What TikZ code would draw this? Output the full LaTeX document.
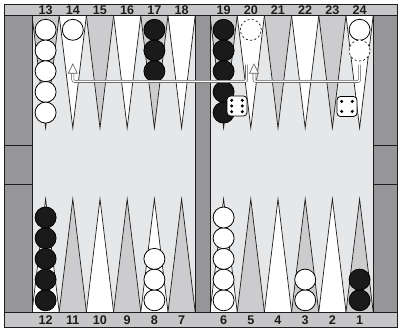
\documentclass[tikz,border=0pt]{standalone}
\usepackage{fontspec}
\setmainfont{Liberation Sans}
\usetikzlibrary{calc}
\definecolor{framegray}{RGB}{150,150,152}
\definecolor{stripgray}{RGB}{198,198,200}
\definecolor{boardbg}{RGB}{230,231,233}
\definecolor{ptgray}{RGB}{204,204,206}
\definecolor{edgecol}{RGB}{30,30,30}
\definecolor{blk}{RGB}{26,26,26}
\definecolor{arrcol}{RGB}{90,90,92}
\begin{document}
\begin{tikzpicture}[x=1pt,y=-1pt,
  outl/.style={draw=edgecol, line width=0.8pt},
  ptri/.style={draw=edgecol, line width=0.7pt, line join=miter},
  lab/.style={anchor=base, inner sep=0pt, font=\fontsize{12.6}{13}\selectfont\bfseries, text=edgecol},
  wchk/.style={circle, minimum size=21pt, inner sep=0pt, fill=white, draw=black, line width=0.8pt},
  bchk/.style={circle, minimum size=21pt, inner sep=0pt, fill=blk, draw=black, line width=0.8pt},
  ghost/.style={circle, minimum size=21pt, inner sep=0pt, fill=white, draw=black, line width=0.6pt, dash pattern=on 2.2pt off 2.2pt},
  arr/.style={draw=arrcol, line width=0.6pt, double=white, double distance=1.5pt, rounded corners=2pt},
  ahead/.style={fill=white, draw=arrcol, line width=0.6pt, line join=miter},
  die/.style={rectangle, rounded corners=3.5pt, minimum size=20pt, inner sep=0pt, fill=white, draw=black, line width=0.8pt},
  pip/.style={fill=black}]
\useasboundingbox (0,0) rectangle (400,328);
% board background
\fill[boardbg] (32,15.5) rectangle (373,312);
% points
\foreach \i in {0,...,5}{
  \ifodd\i \def\tc{white}\def\bc{ptgray}\else \def\tc{ptgray}\def\bc{white}\fi
  \filldraw[fill=\tc, ptri] ({32+27.2*\i},15.5) -- ({45.6+27.2*\i},128) -- ({59.2+27.2*\i},15.5);
  \filldraw[fill=\tc, ptri] ({210+27.2*\i},15.5) -- ({223.6+27.2*\i},128) -- ({237.2+27.2*\i},15.5);
  \filldraw[fill=\bc, ptri] ({32+27.2*\i},312) -- ({45.6+27.2*\i},199) -- ({59.2+27.2*\i},312);
  \filldraw[fill=\bc, ptri] ({210+27.2*\i},312) -- ({223.6+27.2*\i},199) -- ({237.2+27.2*\i},312);
}
% frame
\filldraw[fill=framegray, outl] (4,15.5) rectangle (32,312);
\draw[outl] (4,145) -- (32,145) (4,184) -- (32,184);
\filldraw[fill=framegray, outl] (373,15.5) rectangle (397,312);
\draw[outl] (373,145) -- (397,145) (373,184) -- (397,184);
\filldraw[fill=framegray, outl] (195,15.5) rectangle (210,312);
\filldraw[fill=stripgray, outl] (4,4) rectangle (397,15.5);
\filldraw[fill=stripgray, outl] (4,312) rectangle (397,327);
\foreach \i in {0,...,5}{
  \pgfmathtruncatemacro\ptl{13+\i}
  \pgfmathtruncatemacro\ptr{19+\i}
  \pgfmathtruncatemacro\pbl{12-\i}
  \pgfmathtruncatemacro\pbr{6-\i}
  \node[lab] (L\ptl) at ({45.6+27.2*\i},14.2) {\ptl};
  \node[lab] (L\ptr) at ({223.6+27.2*\i},14.2) {\ptr};
  \node[lab] (L\pbl) at ({45.6+27.2*\i},324.7) {\pbl};
  \node[lab] (L\pbr) at ({223.6+27.2*\i},324.7) {\pbr};
}
% top checkers
\foreach \k in {0,...,4} \node[wchk] (w13-\k) at (45.6,{29.8+20.7*\k}) {};
\node[wchk] (w14-0) at (72.8,29.8) {};
\foreach \k in {0,...,2} \node[bchk] (b17-\k) at (154.4,{29.8+20.7*\k}) {};
\foreach \k in {0,...,4} \node[bchk] (b19-\k) at (223.6,{29.8+20.7*\k}) {};
\node[ghost] (g20) at (250.8,29.8) {};
\node[wchk] (w24-0) at (359.6,29.8) {};
\node[ghost] (g24) at (359.6,50.5) {};
% bottom checkers
\foreach \k in {0,...,4} \node[bchk] (b12-\k) at (45.6,{300.3-20.7*\k}) {};
\foreach \k in {0,...,2} \node[wchk] (w8-\k) at (154.4,{300.3-20.7*\k}) {};
\foreach \k in {0,...,4} \node[wchk] (w6-\k) at (223.6,{300.3-20.7*\k}) {};
\foreach \k in {0,...,1} \node[wchk] (w3-\k) at (305.2,{300.3-20.7*\k}) {};
\foreach \k in {0,...,1} \node[bchk] (b1-\k) at (359.6,{300.3-20.7*\k}) {};
% arrows
\coordinate (lane) at (0,81.5);
\coordinate (bstart) at (246.5,65);
\coordinate (bend) at (72.8,73.3);
\coordinate (btip) at (72.8,64);
\coordinate (astart) at (359.6,65);
\coordinate (aend) at (254,73.3);
\coordinate (atip) at (254,64);
\draw[arr] (bstart) -- (bstart |- lane) -- (bend |- lane) -- (bend);
\filldraw[ahead] (btip) -- ++(-4.5,9.3) -- ++(9,0) -- cycle;
\draw[arr] (astart) -- (astart |- lane) -- (aend |- lane) -- (aend);
\filldraw[ahead] (atip) -- ++(-4.5,9.3) -- ++(9,0) -- cycle;
% dice
\node[die] (d6) at (237,106) {};
\foreach \dx in {-5.3,5.3} \foreach \dy in {-5.7,0,5.7} \fill[pip] ($(d6)+(\dx,\dy)$) circle (1.7);
\node[die] (d4) at (347,106.5) {};
\foreach \dx in {-5.3,5.3} \foreach \dy in {-5,5} \fill[pip] ($(d4)+(\dx,\dy)$) circle (1.7);
\end{tikzpicture}
\end{document}
